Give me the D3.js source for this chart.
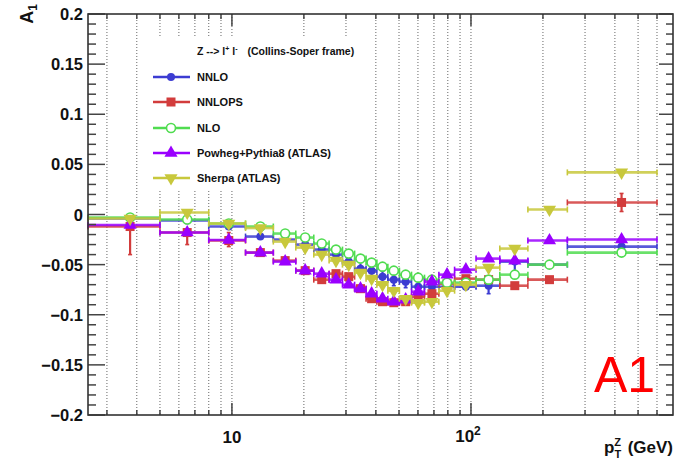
<!DOCTYPE html>
<html>
<head>
<meta charset="utf-8">
<script src="https://cdn.jsdelivr.net/npm/d3@7"></script>
<style>
body { margin: 0; background: #fff; }
svg { display: block; }
text { font-family: "Liberation Sans", Arial, sans-serif; }
</style>
</head>
<body>
<div id="chart"></div>
<script>
// pT^Z bin edges (GeV), first bin below 2.5 is off-scale
var binEdges = [2.5, 5, 8, 11.4, 14.9, 18.5, 22, 25.5, 29, 32.6, 36.4, 40.4, 44.9, 50.2, 56.4, 63.9, 73.4, 85.4, 105, 132, 173, 253, 600];

// A1 per bin
var nnlo    = [-0.004, -0.006, -0.012, -0.022, -0.025, -0.030, -0.035, -0.040, -0.047, -0.054, -0.056, -0.062, -0.065, -0.067, -0.072, -0.072, -0.072, -0.072, -0.071, -0.047, -0.050, -0.032];
var nnlops  = [-0.012, -0.018, -0.026, -0.038, -0.046, -0.056, -0.065, -0.059, -0.062, -0.074, -0.084, -0.087, -0.088, -0.087, -0.082, -0.079, -0.069, -0.064, -0.065, -0.071, -0.065, 0.012];
var nlo     = [-0.003, -0.005, -0.009, -0.012, -0.019, -0.023, -0.029, -0.035, -0.039, -0.044, -0.048, -0.052, -0.056, -0.060, -0.063, -0.065, -0.068, -0.068, -0.065, -0.060, -0.050, -0.038];
var powheg  = [-0.0105, -0.018, -0.0255, -0.038, -0.047, -0.056, -0.059, -0.065, -0.070, -0.074, -0.079, -0.084, -0.087, -0.085, -0.077, -0.067, -0.060, -0.055, -0.044, -0.046, -0.026, -0.025];
var sherpa  = [-0.004, 0.002, -0.009, -0.0135, -0.027, -0.033, -0.040, -0.046, -0.050, -0.058, -0.064, -0.070, -0.076, -0.084, -0.088, -0.087, -0.076, -0.070, -0.053, -0.034, 0.005, 0.042];

// vertical errors (down, up)
var nnloErrLo   = [0, 0, 0.002, 0.003, 0.003, 0.003, 0.004, 0.004, 0.006, 0.005, 0.005, 0.006, 0.006, 0.006, 0.007, 0.006, 0.006, 0.004, 0.008, 0.016, 0.003, 0.003];
var nnloErrHi   = [0, 0, 0.002, 0.003, 0.003, 0.003, 0.004, 0.004, 0.006, 0.005, 0.005, 0.006, 0.006, 0.006, 0.007, 0.006, 0.006, 0.004, 0.008, 0, 0.003, 0.003];
var nnlopsErrLo = [0.028, 0.012, 0.006, 0.003, 0.003, 0.003, 0.003, 0.003, 0.003, 0.003, 0.003, 0.003, 0.003, 0.003, 0.003, 0.003, 0.003, 0.003, 0.003, 0.003, 0.003, 0.009];
var nnlopsErrHi = [0, 0, 0.008, 0.003, 0.003, 0.003, 0.003, 0.003, 0.003, 0.003, 0.003, 0.003, 0.003, 0.003, 0.003, 0.003, 0.003, 0.003, 0.003, 0.003, 0.003, 0.009];

var seriesNames = ["NNLO", "NNLOPS", "NLO", "Powheg+Pythia8 (ATLAS)", "Sherpa (ATLAS)"];
var seriesColors = ["#3c3cd2", "#d23c3c", "#50dc50", "#9a00ff", "#c8c83c"];
var seriesMarkers = ["circle", "square", "opencircle", "triup", "tridown"];

var yTicksMajor = [-0.2, -0.15, -0.1, -0.05, 0, 0.05, 0.1, 0.15, 0.2];
var xGridTicks = [3, 4, 5, 6, 7, 8, 9, 10, 20, 30, 40, 50, 60, 70, 80, 90, 100, 200, 300, 400, 500, 600];

var series = [
  {name: seriesNames[0], vals: nnlo,   lo: nnloErrLo,   hi: nnloErrHi},
  {name: seriesNames[1], vals: nnlops, lo: nnlopsErrLo, hi: nnlopsErrHi},
  {name: seriesNames[2], vals: nlo},
  {name: seriesNames[3], vals: powheg},
  {name: seriesNames[4], vals: sherpa}
];
series.forEach(function (s, i) { s.color = seriesColors[i]; s.marker = seriesMarkers[i]; });

// Dimensions
var W = 675, H = 462;
var plot = {left: 88, right: 673, top: 14, bottom: 415};

var svg = d3.select("#chart").append("svg")
    .attr("width", W)
    .attr("height", H);

var x = d3.scaleLog().domain([2.5, 700]).range([plot.left, plot.right]);
var y = d3.scaleLinear().domain([-0.2, 0.2]).range([plot.bottom, plot.top]);

// Vertical dotted grid
svg.append("g").selectAll("line")
    .data(xGridTicks)
    .enter().append("line")
    .attr("x1", function (d) { return x(d); })
    .attr("x2", function (d) { return x(d); })
    .attr("y1", plot.top)
    .attr("y2", plot.bottom)
    .attr("stroke", "#666")
    .attr("stroke-width", 1)
    .attr("stroke-dasharray", "1,2");

// Legend box (white, hides grid)
var leg = svg.append("g");
leg.append("rect")
    .attr("x", 146).attr("y", 36)
    .attr("width", 224).attr("height", 155)
    .attr("fill", "#fff");

// Data
var bins = binEdges.slice(0, -1).map(function (lo, i) {
    return {lo: lo, hi: binEdges[i + 1], mid: (lo + binEdges[i + 1]) / 2};
});

function drawMarker(g, type, color, cx, cy) {
    if (type === "circle") {
        g.append("circle").attr("cx", cx).attr("cy", cy).attr("r", 4).attr("fill", color);
    } else if (type === "opencircle") {
        g.append("circle").attr("cx", cx).attr("cy", cy).attr("r", 4.5)
            .attr("fill", "#fff").attr("stroke", color).attr("stroke-width", 1.6);
    } else if (type === "square") {
        g.append("rect").attr("x", cx - 4.5).attr("y", cy - 4.5)
            .attr("width", 9).attr("height", 9).attr("fill", color);
    } else {
        var sym = d3.symbol().type(d3.symbolTriangle).size(75);
        g.append("path").attr("d", sym())
            .attr("transform", "translate(" + cx + "," + cy + ")" + (type === "tridown" ? " rotate(180)" : ""))
            .attr("fill", color);
    }
}

series.forEach(function (s) {
    var g = svg.append("g").attr("stroke-linecap", "butt");
    bins.forEach(function (b, i) {
        var v = s.vals[i];
        var yy = y(v);
        var x0 = x(b.lo), x1 = x(b.hi);
        // horizontal bin bar with end caps
        g.append("line").attr("x1", x0).attr("x2", x1).attr("y1", yy).attr("y2", yy)
            .attr("stroke", s.color).attr("stroke-width", 2.6).attr("stroke-opacity", 0.85);
        [x0, x1].forEach(function (xc) {
            g.append("line").attr("x1", xc).attr("x2", xc).attr("y1", yy - 3).attr("y2", yy + 3)
                .attr("stroke", s.color).attr("stroke-width", 1.6);
        });
        // vertical error
        var eLo = s.lo ? s.lo[i] : 0, eHi = s.hi ? s.hi[i] : 0;
        if (eLo > 0 || eHi > 0) {
            var xm = x(b.mid);
            g.append("line").attr("x1", xm).attr("x2", xm).attr("y1", y(v + eHi)).attr("y2", y(v - eLo))
                .attr("stroke", s.color).attr("stroke-width", 2.2);
            if (eLo > 0.005) g.append("line").attr("x1", xm - 2).attr("x2", xm + 2).attr("y1", y(v - eLo)).attr("y2", y(v - eLo))
                .attr("stroke", s.color).attr("stroke-width", 1.6);
            if (eHi > 0.005) g.append("line").attr("x1", xm - 2).attr("x2", xm + 2).attr("y1", y(v + eHi)).attr("y2", y(v + eHi))
                .attr("stroke", s.color).attr("stroke-width", 1.6);
        }
        drawMarker(g, s.marker, s.color, x(b.mid), yy);
    });
});

// Legend entries
leg.append("text")
    .attr("x", 197).attr("y", 55)
    .attr("font-size", 10.5).attr("font-weight", "bold").attr("fill", "#111")
    .attr("xml:space", "preserve")
    .html('Z --&gt; l<tspan dy="-4" font-size="7">+</tspan><tspan dy="4"> l</tspan><tspan dy="-4" font-size="7">-</tspan><tspan dy="4" dx="4">  (Collins-Soper frame)</tspan>');

var legY = [77, 102, 128, 153, 178];
series.forEach(function (s, i) {
    var ly = legY[i];
    leg.append("line").attr("x1", 153).attr("x2", 190).attr("y1", ly).attr("y2", ly)
        .attr("stroke", s.color).attr("stroke-width", 2.6);
    drawMarker(leg, s.marker, s.color, 171, ly);
    leg.append("text").attr("x", 197).attr("y", ly + 4)
        .attr("font-size", 11).attr("font-weight", "bold").attr("fill", "#111")
        .text(s.name);
});

// Axes ticks
var yMinor = d3.range(-20, 21).map(function (k) { return k / 100; });

var axes = svg.append("g").attr("stroke", "#444");
// left and right y ticks
yMinor.forEach(function (v) {
    var isMajor = Math.abs(Math.round(v * 100) % 5) === 0;
    var len = isMajor ? 17 : 8;
    axes.append("line").attr("x1", plot.left).attr("x2", plot.left + len)
        .attr("y1", y(v)).attr("y2", y(v)).attr("stroke-width", 1.5);
    var rlen = isMajor ? 14 : 7;
    axes.append("line").attr("x1", plot.right - rlen).attr("x2", plot.right)
        .attr("y1", y(v)).attr("y2", y(v)).attr("stroke-width", 1.5);
});
// bottom and top x ticks
xGridTicks.forEach(function (v) {
    var len = (v === 10 || v === 100) ? 12 : 5;
    axes.append("line").attr("x1", x(v)).attr("x2", x(v))
        .attr("y1", plot.bottom).attr("y2", plot.bottom - len).attr("stroke-width", 1.5);
    axes.append("line").attr("x1", x(v)).attr("x2", x(v))
        .attr("y1", plot.top).attr("y2", plot.top + len).attr("stroke-width", 1.5);
});

// Frame
svg.append("rect")
    .attr("x", plot.left).attr("y", plot.top)
    .attr("width", plot.right - plot.left).attr("height", plot.bottom - plot.top)
    .attr("fill", "none").attr("stroke", "#333").attr("stroke-width", 1.6);

// Y tick labels
svg.append("g").selectAll("text")
    .data(yTicksMajor)
    .enter().append("text")
    .attr("x", 83)
    .attr("y", function (d) { return y(d) + 6; })
    .attr("text-anchor", "end")
    .attr("font-size", 16.5).attr("font-weight", "bold").attr("fill", "#111")
    .text(function (d) { return d3.format("")(+d.toFixed(2)); });

// X tick labels
svg.append("text").attr("x", x(10)).attr("y", 443)
    .attr("text-anchor", "middle").attr("font-size", 17).attr("font-weight", "bold").attr("fill", "#111")
    .text("10");
svg.append("text").attr("x", x(100) - 3).attr("y", 442)
    .attr("text-anchor", "middle").attr("font-size", 17).attr("font-weight", "bold").attr("fill", "#111")
    .html('10<tspan dy="-7" font-size="12">2</tspan>');

// Axis titles
svg.append("text").attr("x", 673).attr("y", 453)
    .attr("text-anchor", "end").attr("font-size", 17).attr("font-weight", "bold").attr("fill", "#111")
    .html('p<tspan dy="5" font-size="11">T</tspan><tspan dx="-7" dy="-12" font-size="11">Z</tspan><tspan dy="7" dx="2"> (GeV)</tspan>');

svg.append("text")
    .attr("transform", "translate(33,4) rotate(-90)")
    .attr("text-anchor", "end").attr("font-size", 18).attr("font-weight", "bold").attr("fill", "#111")
    .html('A<tspan dy="4" font-size="12">1</tspan>');

// Red label
svg.append("text").attr("x", 594).attr("y", 392)
    .attr("font-size", 50).attr("fill", "#ff0000")
    .text("A1");
</script>
</body>
</html>
